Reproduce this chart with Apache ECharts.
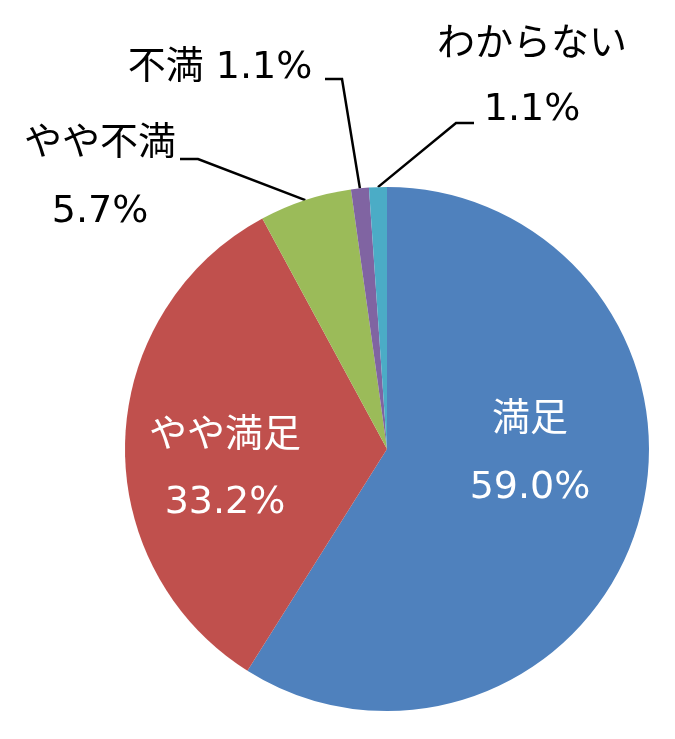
<!DOCTYPE html>
<html>
<head>
<meta charset="utf-8">
<script src="https://cdn.jsdelivr.net/npm/echarts@6/dist/echarts.min.js"></script>
<style>
html,body{margin:0;padding:0;background:#fff;}
#chart{width:675px;height:739px;}
</style>
</head>
<body>
<div id="chart"></div>
<script>
const categories = ['満足', 'やや満足', 'やや不満', '不満', 'わからない'];
const values = [59.0, 33.2, 5.7, 1.1, 1.1];
const colors = ['#4F81BD', '#C0504D', '#9BBB59', '#8064A2', '#4BACC6'];

const FONT = '"DejaVu Sans", "Noto Sans CJK JP", sans-serif';
// label placement (pixel layout only)
const labelPlace = [
  { x: 530, y: 454, lh: 68, inside: true, sep: '\n' },
  { x: 225, y: 470, lh: 67, inside: true, sep: '\n' },
  { x: 100, y: 178, lh: 68, inside: false, sep: '\n', bend: [198, 159], end: [180, 159] },
  { x: 220, y: 68, lh: 40, inside: false, sep: ' ', bend: [342, 79], end: [325, 79] },
  { x: 532, y: 78, lh: 65, inside: false, sep: '\n', bend: [456, 123], end: [474, 123] }
];

const CX = 387, CY = 449, R = 262;
const total = values.reduce((a, b) => a + b, 0);

const data = categories.map((name, i) => {
  const p = labelPlace[i];
  return {
    name: name,
    value: values[i],
    itemStyle: { color: colors[i] },
    label: {
      show: true,
      position: p.inside ? 'inside' : 'outside',
      color: p.inside ? '#ffffff' : '#000000',
      fontSize: 38,
      lineHeight: p.lh,
      fontFamily: FONT,
      align: 'center',
      formatter: function (prm) { return prm.name + p.sep + prm.value.toFixed(1) + '%'; }
    },
    labelLine: {
      show: !p.inside,
      length: 10,
      length2: 10,
      lineStyle: { color: '#000000', width: 2.5 }
    }
  };
});

function edgePoint(i) {
  let acc = 0;
  for (let k = 0; k < i; k++) acc += values[k];
  const mid = (acc + values[i] / 2) / total * Math.PI * 2;
  return [CX + R * Math.sin(mid), CY - R * Math.cos(mid)];
}

const chart = echarts.init(document.getElementById('chart'), null, { renderer: 'canvas' });
chart.setOption({
  animation: false,
  backgroundColor: '#ffffff',
  series: [{
    type: 'pie',
    center: [CX, CY],
    radius: [0, R],
    startAngle: 90,
    clockwise: true,
    avoidLabelOverlap: false,
    emphasis: { disabled: true },
    data: data,
    labelLayout: function (params) {
      const i = params.dataIndex;
      const p = labelPlace[i];
      const out = { x: p.x, y: p.y, align: 'center', verticalAlign: 'middle' };
      if (!p.inside) {
        const start = edgePoint(i);
        out.labelLinePoints = [start, p.bend, p.end];
      }
      return out;
    }
  }]
});
</script>
</body>
</html>
